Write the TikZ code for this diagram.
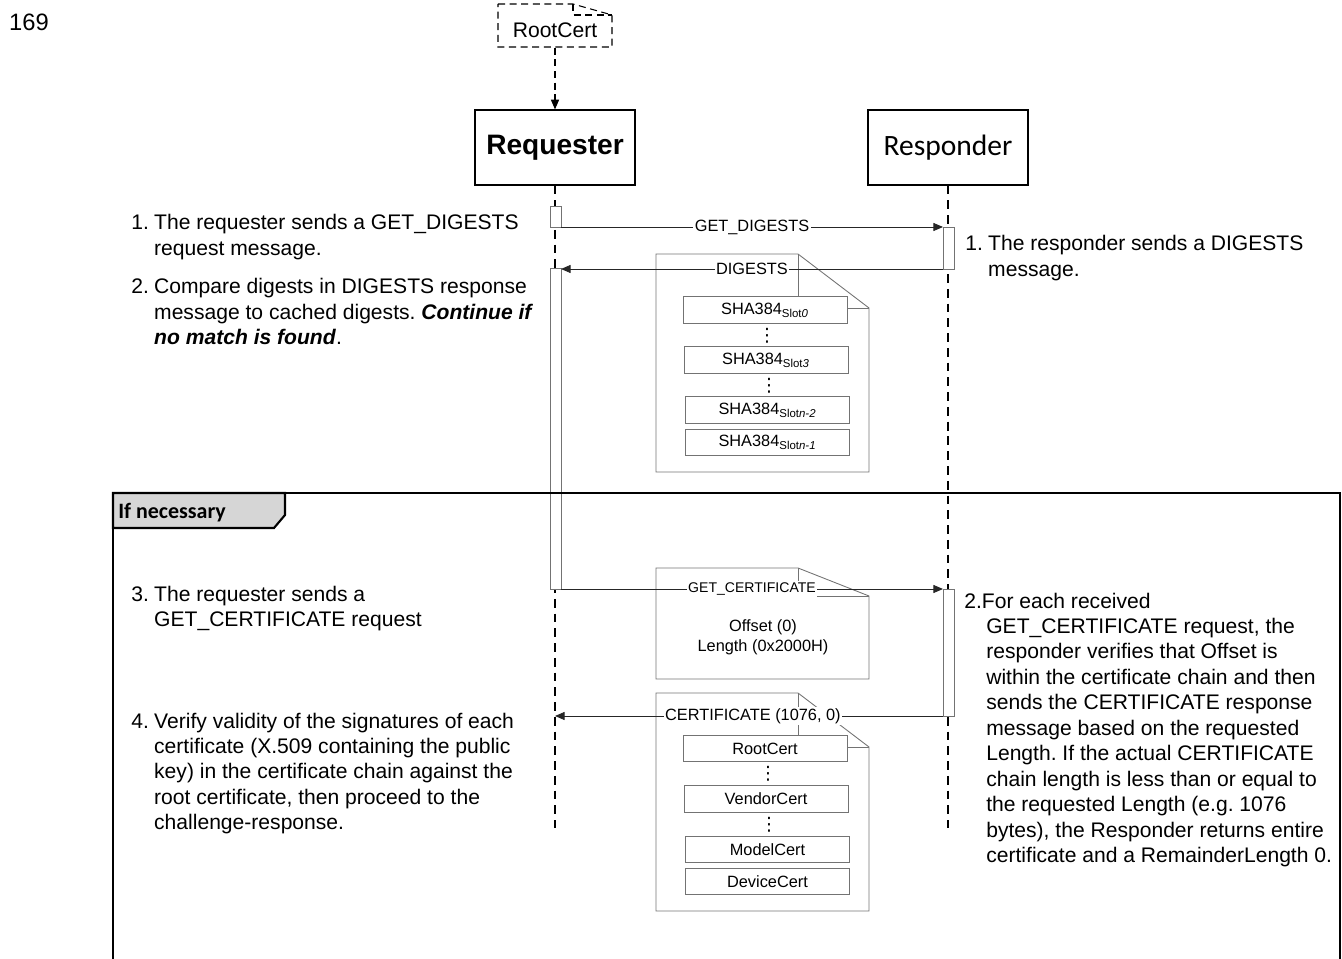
\documentclass[tikz,border=0pt]{standalone}
\usepackage{fontspec}
\setmainfont{Liberation Sans}
\newfontfamily\calibri{Carlito}
\newfontfamily\dejavu{DejaVu Sans}
\usetikzlibrary{arrows.meta}
\frenchspacing
\def\notepaper[#1](#2,#3)(#4,#5)(#6:#7){\draw[#1] (#2,#3) -- (#4-#6,#3) -- (#4,#3+#7) -- (#4,#5) -- (#2,#5) -- cycle; \draw[#1] (#4-#6,#3) -- (#4-#6,#3+#7) -- (#4,#3+#7);}
\tikzset{
	lifeline/.style={line width=0.6pt, dash pattern=on 5pt off 3.4pt},
	msg/.style={line width=0.5pt, draw=black!85, -{Triangle[length=5.5pt,width=4.6pt]}},
	msglabel/.style={fill=white, inner sep=0.8pt, text=black, font=\fontsize{9.3}{11}\selectfont},
	actbox/.style={draw=black!55, fill=white, line width=0.5pt},
	notepen/.style={draw=black!55, line width=0.5pt},
	slotbox/.style={draw=black!55, fill=white, line width=0.5pt, minimum width=3.28cm, minimum height=0.53cm, inner sep=0pt, font=\fontsize{9.3}{11}\selectfont},
	dotsbox/.style={inner sep=0pt, font=\fontsize{10.5}{11}\selectfont\dejavu},
	actorbox/.style={draw, line width=0.7pt, minimum width=3.2cm, minimum height=1.5cm, inner sep=0pt},
	steptext/.style={anchor=base west, inner sep=0pt, font=\fontsize{12}{14.5}\selectfont},
}
\begin{document}
\begin{tikzpicture}[x=0.02cm, y=-0.02cm]
			%%%%% START %%%%%
			\useasboundingbox (0,0) rectangle (1342,959);
			
			\node[font=\fontsize{13.5}{15}\selectfont] (pagenum) at (29,22) {169};
			
			\node[inner sep=0pt, minimum width=2.28cm, text height=19pt, text depth=5.7pt, anchor=base, font=\fontsize{12}{14}\selectfont] (rootcert) at (555,37.5) {RootCert};
			\notepaper[line width=0.6pt, dash pattern=on 4pt off 2.6pt](498,4)(612,47)(39:11)
			
			\node[actorbox, font=\fontsize{16}{18}\selectfont\bfseries] (req) at (555,147.5) {Requester};
			\node[actorbox, font=\fontsize{16.8}{18}\selectfont\calibri] (resp) at (948,147.5) {Responder};
			\draw[line width=0.6pt, dash pattern=on 4pt off 2.6pt, -{Triangle[length=5.5pt,width=4.6pt]}] (rootcert.south) -- (req.north);
			
			\coordinate (reqend) at (555,828);
			\coordinate (respend) at (948,828);
			\draw[lifeline] (req.south) -- (reqend);
			\draw[lifeline] (resp.south) -- (respend);
			
			\draw[actbox] (550,206) rectangle (561,227);
			\draw[actbox] (550,268) rectangle (561,589);
			\draw[actbox] (943,227) rectangle (954,269);
			\draw[actbox] (943,589) rectangle (954,716);
			
			\coordinate (getdigs) at (561,227);
			\coordinate (getdige) at (943,227);
			\coordinate (digs) at (943,269);
			\coordinate (dige) at (561,269);
			\coordinate (getcerts) at (561,589);
			\coordinate (getcerte) at (943,589);
			\coordinate (certs) at (943,716);
			\coordinate (certe) at (555,716);
			
			\notepaper[notepen](656,254)(869,472)(71:54)
			\notepaper[notepen](656,568)(869,679)(71:28)
			\notepaper[notepen](656,693)(869,911)(71:54)
			
			\draw[msg] (getdigs) -- node[msglabel] {GET\_DIGESTS} (getdige);
			\draw[msg] (digs) -- node[msglabel] {DIGESTS} (dige);
			\draw[msg] (getcerts) -- node[msglabel, font=\fontsize{8}{10}\selectfont] {GET\_CERTIFICATE} (getcerte);
			\draw[msg] (certs) -- node[msglabel, pos=0.49] {CERTIFICATE (1076, 0)} (certe);
			
			\node[slotbox] (slot0) at (765,310) {SHA384\textsubscript{Slot\textit{0}}};
			\node[dotsbox] (dotsa) at (767,336) {⋮};
			\node[slotbox] (slot3) at (766,360) {SHA384\textsubscript{Slot\textit{3}}};
			\node[dotsbox] (dotsb) at (769,386) {⋮};
			\node[slotbox] (slotn2) at (767.5,410) {SHA384\textsubscript{Slot\textit{n-2}}};
			\node[slotbox] (slotn1) at (767.5,442.5) {SHA384\textsubscript{Slot\textit{n-1}}};
			
			\node[align=center, font=\fontsize{9.3}{11.3}\selectfont] (getcertbody) at (763,637) {Offset (0)\\Length (0x2000H)};
			
			\node[slotbox] (rootslot) at (765,748.5) {RootCert};
			\node[dotsbox] (dotsc) at (768,774) {⋮};
			\node[slotbox] (vendorslot) at (766,799) {VendorCert};
			\node[dotsbox] (dotsd) at (769,825) {⋮};
			\node[slotbox] (modelslot) at (767.5,849.5) {ModelCert};
			\node[slotbox] (deviceslot) at (767.5,881.5) {DeviceCert};
			
			\draw[line width=1.2pt] (113,962) -- (113,493) -- (1340,493) -- (1340,962);
			\draw[line width=1.2pt, fill=black!16] (113,493) -- (285,493) -- (285,515) -- (274,528) -- (113,528) -- cycle;
			\node[anchor=base west, inner sep=0pt, font=\fontsize{12.5}{14}\selectfont\calibri\bfseries] (ifnec) at (118,518) {If necessary};
			
			\node[steptext] (reqone) at (131,230) {\begin{tabular}[t]{@{}l@{\hspace{3pt}}l@{}}1. & The requester sends a GET\_DIGESTS\\ & request message.\end{tabular}};
			\node[steptext] (reqtwo) at (131,294) {\begin{tabular}[t]{@{}l@{\hspace{3pt}}l@{}}2. & Compare digests in DIGESTS response\\ & message to cached digests. \textbf{\textit{Continue if}}\\ & \textbf{\textit{no match is found}}.\end{tabular}};
			\node[steptext] (reqthree) at (131,601) {\begin{tabular}[t]{@{}l@{\hspace{3pt}}l@{}}3. & The requester sends a\\ & GET\_CERTIFICATE request\end{tabular}};
			\node[steptext] (reqfour) at (131,728) {\begin{tabular}[t]{@{}l@{\hspace{3pt}}l@{}}4. & Verify validity of the signatures of each\\ & certificate (X.509 containing the public\\ & key) in the certificate chain against the\\ & root certificate, then proceed to the\\ & challenge-response.\end{tabular}};
			
			\node[steptext] (respone) at (965,251) {\begin{tabular}[t]{@{}l@{\hspace{3pt}}l@{}}1. & The responder sends a DIGESTS\\ & message.\end{tabular}};
			\node[steptext] (resptwo) at (964,608) {\begin{tabular}[t]{@{\hspace{12.5pt}}l@{}}\multicolumn{1}{@{}l@{}}{2.For each received}\\ GET\_CERTIFICATE request, the\\ responder verifies that Offset is\\ within the certificate chain and then\\ sends the CERTIFICATE response\\ message based on the requested\\ Length. If the actual CERTIFICATE\\ chain length is less than or equal to\\ the requested Length (e.g. 1076\\ bytes), the Responder returns entire\\ certificate and a RemainderLength 0.\end{tabular}};
			
			%%%%% END %%%%%
\end{tikzpicture}
\end{document}
